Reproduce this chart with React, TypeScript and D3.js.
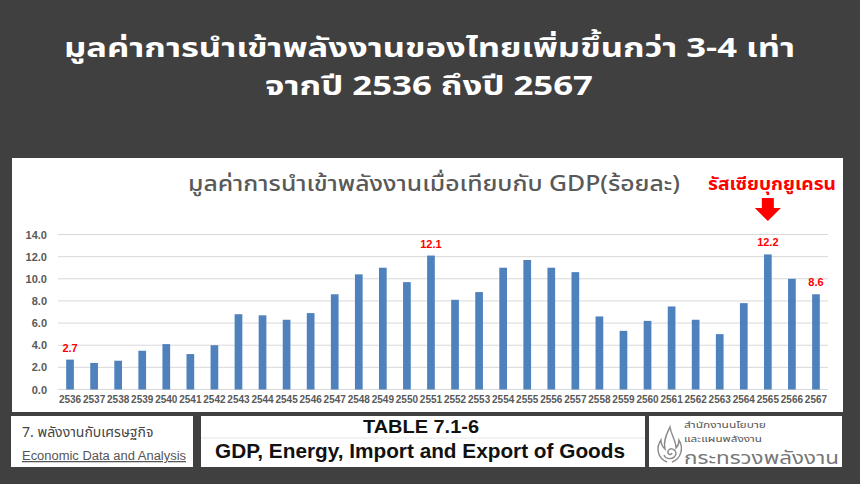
import React from 'react';
import * as d3 from 'd3';

// Thai Buddhist-era years, 2536–2567
const years = [
  '2536', '2537', '2538', '2539', '2540', '2541', '2542', '2543', '2544', '2545', '2546',
  '2547', '2548', '2549', '2550', '2551', '2552', '2553', '2554', '2555', '2556', '2557',
  '2558', '2559', '2560', '2561', '2562', '2563', '2564', '2565', '2566', '2567',
];

// Energy import value as a percentage of GDP
const importShare = [
  2.7, 2.4, 2.6, 3.5, 4.1, 3.2, 4.0, 6.8, 6.7, 6.3, 6.9,
  8.6, 10.4, 11.0, 9.7, 12.1, 8.1, 8.8, 11.0, 11.7, 11.0, 10.6,
  6.6, 5.3, 6.2, 7.5, 6.3, 5.0, 7.8, 12.2, 10.0, 8.6,
];

const yTicks = [0, 2, 4, 6, 8, 10, 12, 14];
const labelledYears = ['2536', '2551', '2565', '2567'];

const headline1 = 'มูลค่าการนำเข้าพลังงานของไทยเพิ่มขึ้นกว่า 3-4 เท่า';
const headline2 = 'จากปี 2536 ถึงปี 2567';
const chartTitle = 'มูลค่าการนำเข้าพลังงานเมื่อเทียบกับ GDP(ร้อยละ)';
const eventLabel = 'รัสเซียบุกยูเครน';
const eventYear = '2565';

const THAI = "'Noto Sans Thai', 'Noto Sans', 'DejaVu Sans', sans-serif";
const LATIN = "'Liberation Sans', Arial, sans-serif";

export default function App() {
  const x = d3.scaleBand<string>().domain(years).range([58, 828]).paddingInner(0.68).paddingOuter(0.34);
  const y = d3.scaleLinear().domain([0, 14]).range([389.5, 234.5]);
  const fmt = d3.format('.1f');
  const data = years.map((yr, i) => ({ yr, v: importShare[i] }));
  const ex = (x(eventYear) ?? 0) + x.bandwidth() / 2;

  return (
    <svg width={860} height={484} style={{ position: 'absolute', left: 0, top: 0 }}>
      <rect width={860} height={484} fill="#404040" />

      {/* headline */}
      <text x={64} y={57} fill="#fff" fontFamily={THAI} fontWeight="bold" fontSize={27}
        textLength={731} lengthAdjust="spacingAndGlyphs">
        {headline1}
      </text>
      <text x={265} y={95} fill="#fff" fontFamily={THAI} fontWeight="bold" fontSize={27}
        textLength={328} lengthAdjust="spacingAndGlyphs">
        {headline2}
      </text>

      {/* chart panel */}
      <rect x={12} y={158} width={831} height={254} fill="#fff" />
      <text x={188} y={191} fill="#595959" fontFamily={THAI} fontSize={21} fontWeight={500}
        textLength={492} lengthAdjust="spacingAndGlyphs">
        {chartTitle}
      </text>
      <text x={708} y={190} fill="#ff0000" fontFamily={THAI} fontWeight="bold" fontSize={17}
        textLength={128} lengthAdjust="spacingAndGlyphs">
        {eventLabel}
      </text>
      <path
        d={`M${ex - 6},198 H${ex + 6} V208 H${ex + 13} L${ex},221 L${ex - 13},208 H${ex - 6} Z`}
        fill="#ff0000"
      />

      {/* grid + y axis */}
      {yTicks.map((t) => (
        <g key={t}>
          <line x1={58} x2={828} y1={y(t)} y2={y(t)} stroke="#d9d9d9" strokeWidth={1} />
          <text x={47} y={y(t) + 4} textAnchor="end" fill="#595959" fontFamily={LATIN} fontWeight="bold" fontSize={11}>
            {fmt(t)}
          </text>
        </g>
      ))}

      {/* bars */}
      {data.map((d) => (
        <rect key={d.yr} x={x(d.yr)} y={y(d.v)} width={x.bandwidth()} height={y(0) - y(d.v)} fill="#4f81bd" />
      ))}

      {/* value labels */}
      {data
        .filter((d) => labelledYears.includes(d.yr))
        .map((d) => (
          <text
            key={d.yr}
            x={(x(d.yr) ?? 0) + x.bandwidth() / 2}
            y={y(d.v) - 8}
            textAnchor="middle"
            fill="#ff0000"
            fontFamily={LATIN}
            fontWeight="bold"
            fontSize={11}
          >
            {fmt(d.v)}
          </text>
        ))}

      {/* x axis labels */}
      {years.map((yr) => (
        <text
          key={yr}
          x={(x(yr) ?? 0) + x.bandwidth() / 2}
          y={403}
          textAnchor="middle"
          fill="#595959"
          fontFamily={LATIN}
          fontSize={10}
          fontWeight="bold"
        >
          {yr}
        </text>
      ))}

      {/* footer boxes */}
      <rect x={11} y={416} width={182} height={51} fill="#fff" />
      <text x={22} y={437} fill="#444" fontFamily={THAI} fontSize={14}>7. พลังงานกับเศรษฐกิจ</text>
      <text x={22} y={460} fill="#555" fontFamily={LATIN} fontSize={12.5} textDecoration="underline"
        textLength={164} lengthAdjust="spacingAndGlyphs">
        Economic Data and Analysis
      </text>

      <rect x={201} y={416} width={444} height={51} fill="#fff" />
      <line x1={201} x2={645} y1={438} y2={438} stroke="#e6e6e6" />
      <text x={363} y={433} fill="#111" fontFamily={LATIN} fontWeight="bold" fontSize={19}
        textLength={116} lengthAdjust="spacingAndGlyphs">
        TABLE 7.1-6
      </text>
      <text x={215} y={458} fill="#111" fontFamily={LATIN} fontWeight="bold" fontSize={20.5}
        textLength={410} lengthAdjust="spacingAndGlyphs">
        GDP, Energy, Import and Export of Goods
      </text>

      <rect x={649} y={416} width={193} height={51} fill="#fff" />
      <g fill="none" stroke="#8a8a8a" strokeWidth={1.4}>
        <path d="M667,462 C657,458 656,447 661,440 C661,446 664,448 665,449 C663,441 667,433 670,427 C671,435 676,440 676,448 C678,446 679,443 679,440 C684,448 681,459 672,462" />
        <path d="M664,455 C666,460 674,460 676,454 C676,449 670,447 668,451 C667,454 671,456 672,453" />
      </g>
      <text x={684} y={428} fill="#555" fontFamily={THAI} fontSize={9.5}
        textLength={82} lengthAdjust="spacingAndGlyphs">สำนักงานนโยบาย</text>
      <text x={684} y={442} fill="#555" fontFamily={THAI} fontSize={9.5}
        textLength={78} lengthAdjust="spacingAndGlyphs">และแผนพลังงาน</text>
      <text x={684} y={464} fill="#777" fontFamily={THAI} fontSize={18}
        textLength={155} lengthAdjust="spacingAndGlyphs">กระทรวงพลังงาน</text>
    </svg>
  );
}
